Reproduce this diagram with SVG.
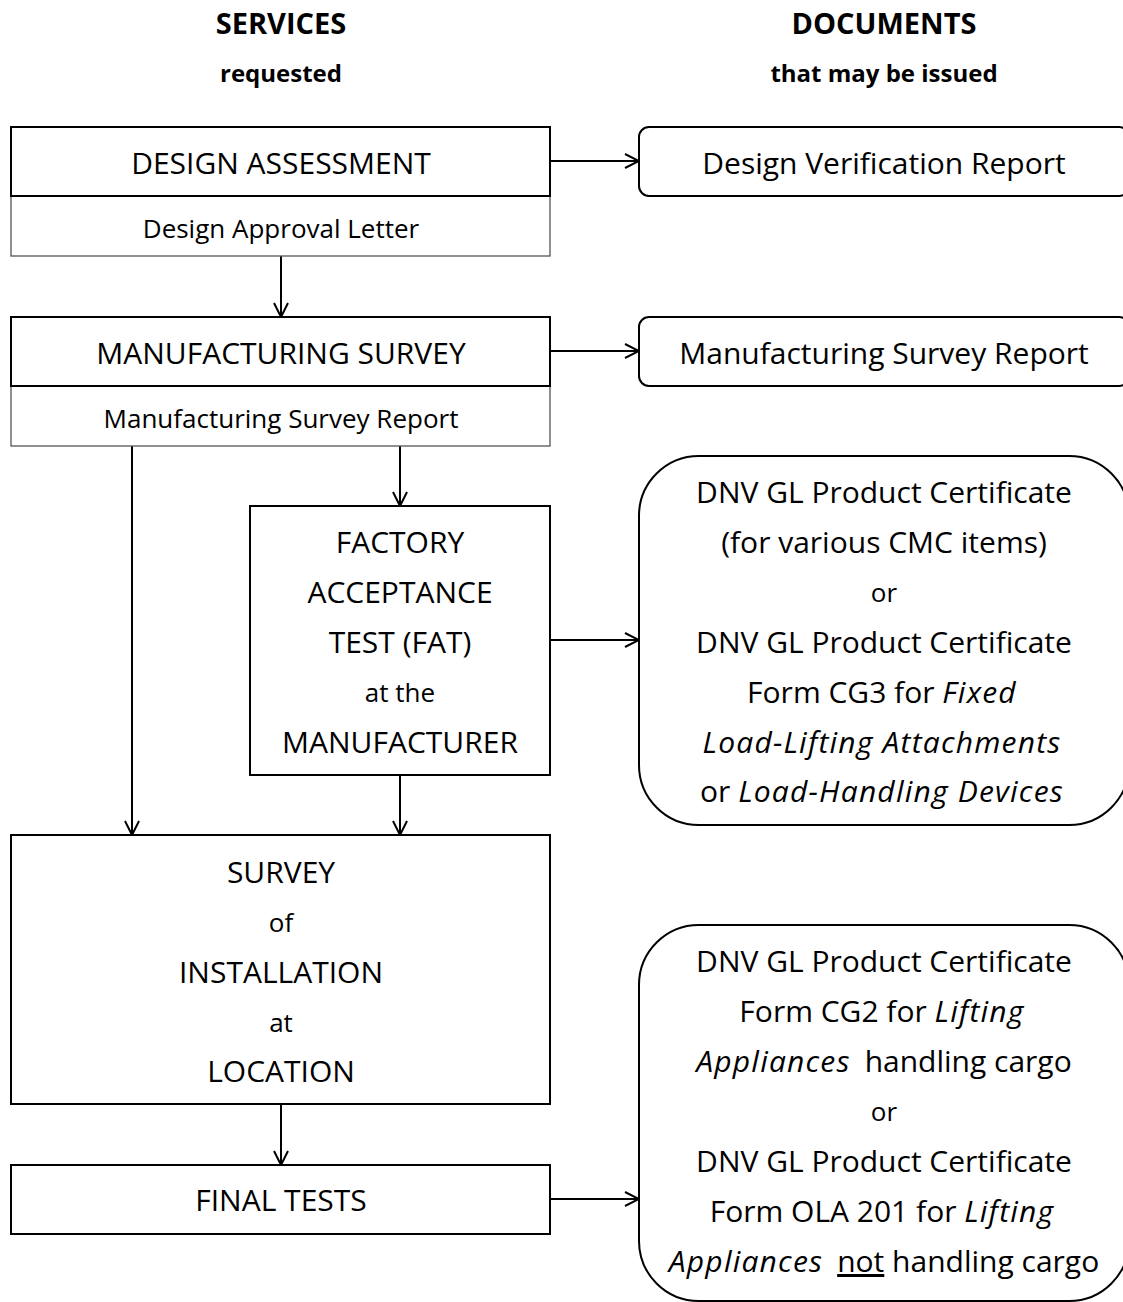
<svg xmlns="http://www.w3.org/2000/svg" width="1123" height="1302" viewBox="0 0 1123 1302">
<defs>
<style>
text{font-family:"Open Sans","Noto Sans","Liberation Sans",sans-serif;fill:#000;text-anchor:middle}
.hd{font-weight:bold;font-size:29px}
.hs{font-weight:bold;font-size:24px}
.m{font-size:30px}
.s{font-size:26px}
.i{font-style:italic;letter-spacing:1.2px}
.box{fill:#fff;stroke:#000;stroke-width:2}
.sub{fill:#fff;stroke:#555;stroke-width:1.3}
.ln{fill:none;stroke:#000;stroke-width:2}
</style>
<marker id="ah" viewBox="0 0 16 16" refX="15" refY="8" markerWidth="16" markerHeight="16" markerUnits="userSpaceOnUse" orient="auto">
<path d="M1,1 L15,8 L1,15" fill="none" stroke="#000" stroke-width="2"/>
</marker>
</defs>
<rect width="1123" height="1302" fill="#fff"/>

<g id="headers">
<text class="hd" x="281" y="34">SERVICES</text>
<text class="hs" x="281" y="82">requested</text>
<text class="hd" x="884" y="34">DOCUMENTS</text>
<text class="hs" x="884" y="82">that may be issued</text>
</g>

<g id="connectors">
<line class="ln" x1="550" y1="161" x2="639" y2="161" marker-end="url(#ah)"/>
<line class="ln" x1="550" y1="351" x2="639" y2="351" marker-end="url(#ah)"/>
<line class="ln" x1="550" y1="640" x2="639" y2="640" marker-end="url(#ah)"/>
<line class="ln" x1="550" y1="1199" x2="639" y2="1199" marker-end="url(#ah)"/>
<line class="ln" x1="281" y1="256" x2="281" y2="317" marker-end="url(#ah)"/>
<line class="ln" x1="132" y1="446" x2="132" y2="835" marker-end="url(#ah)"/>
<line class="ln" x1="400" y1="446" x2="400" y2="506" marker-end="url(#ah)"/>
<line class="ln" x1="400" y1="775" x2="400" y2="835" marker-end="url(#ah)"/>
<line class="ln" x1="281" y1="1104" x2="281" y2="1165" marker-end="url(#ah)"/>
</g>

<g id="design-assessment">
<rect class="sub" x="11" y="196" width="539" height="60"/>
<rect class="box" x="11" y="127" width="539" height="69"/>
<text class="m" x="281" y="174">DESIGN ASSESSMENT</text>
<text class="s" x="281" y="238">Design Approval Letter</text>
</g>

<g id="design-verification-report">
<rect class="box" x="639" y="127" width="490" height="69" rx="10"/>
<text class="m" x="884" y="174">Design Verification Report</text>
</g>

<g id="manufacturing-survey">
<rect class="sub" x="11" y="386" width="539" height="60"/>
<rect class="box" x="11" y="317" width="539" height="69"/>
<text class="m" x="281" y="364">MANUFACTURING SURVEY</text>
<text class="s" x="281" y="428">Manufacturing Survey Report</text>
</g>

<g id="manufacturing-survey-report">
<rect class="box" x="639" y="317" width="490" height="69" rx="10"/>
<text class="m" x="884" y="364">Manufacturing Survey Report</text>
</g>

<g id="fat">
<rect class="box" x="250" y="506" width="300" height="269"/>
<text class="m" x="400" y="553">FACTORY</text>
<text class="m" x="400" y="603">ACCEPTANCE</text>
<text class="m" x="400" y="653">TEST (FAT)</text>
<text class="s" x="400" y="702">at the</text>
<text class="m" x="400" y="753">MANUFACTURER</text>
</g>

<g id="product-certificate-cg3">
<rect class="box" x="639" y="456" width="490" height="369" rx="60"/>
<text class="m" x="884" y="503">DNV GL Product Certificate</text>
<text class="m" x="884" y="553">(for various CMC items)</text>
<text class="s" x="884" y="602">or</text>
<text class="m" x="884" y="653">DNV GL Product Certificate</text>
<text class="m" x="882" y="703">Form CG3 for <tspan class="i">Fixed</tspan></text>
<text class="m i" x="882" y="753">Load-Lifting Attachments</text>
<text class="m" x="882" y="802">or <tspan class="i">Load-Handling Devices</tspan></text>
</g>

<g id="survey-installation">
<rect class="box" x="11" y="835" width="539" height="269"/>
<text class="m" x="281" y="883">SURVEY</text>
<text class="s" x="281" y="932">of</text>
<text class="m" x="281" y="983">INSTALLATION</text>
<text class="s" x="281" y="1032">at</text>
<text class="m" x="281" y="1082">LOCATION</text>
</g>

<g id="final-tests">
<rect class="box" x="11" y="1165" width="539" height="69"/>
<text class="m" x="281" y="1211">FINAL TESTS</text>
</g>

<g id="product-certificate-cg2-ola">
<rect class="box" x="639" y="925" width="490" height="376" rx="60"/>
<text class="m" x="884" y="972">DNV GL Product Certificate</text>
<text class="m" x="882" y="1022">Form CG2 for <tspan class="i">Lifting</tspan></text>
<text class="m" x="884" y="1072"><tspan class="i">Appliances</tspan><tspan dx="14">handling cargo</tspan></text>
<text class="s" x="884" y="1121">or</text>
<text class="m" x="884" y="1172">DNV GL Product Certificate</text>
<text class="m" x="882" y="1222">Form OLA 201 for <tspan class="i">Lifting</tspan></text>
<text class="m" x="884" y="1272"><tspan class="i">Appliances</tspan><tspan dx="14" text-decoration="underline">not</tspan> handling cargo</text>
</g>
</svg>
